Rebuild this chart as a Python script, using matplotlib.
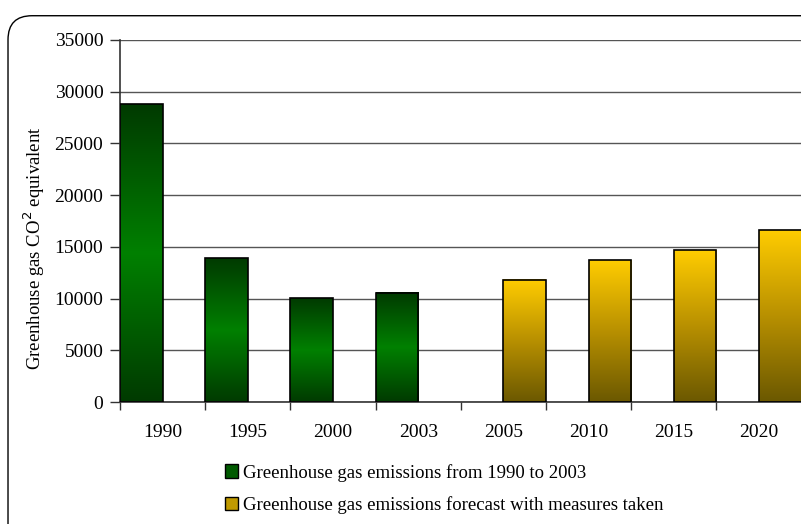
import numpy as np
import matplotlib
matplotlib.use("Agg")
import matplotlib.pyplot as plt
from matplotlib.colors import LinearSegmentedColormap
from matplotlib.patches import FancyBboxPatch, Patch

plt.rcParams['font.family'] = ['Liberation Serif', 'DejaVu Serif']

years = ['1990', '1995', '2000', '2003', '2005', '2010', '2015', '2020']
measured = [28800, 13900, 10050, 10550, 0, 0, 0, 0]
forecast = [0, 0, 0, 0, 11800, 13700, 14650, 16600]
labels = ['Greenhouse gas emissions from 1990 to 2003',
          'Greenhouse gas emissions forecast with measures taken']

green_cmap = LinearSegmentedColormap.from_list('g', ['#003a00', '#008000', '#003a00'])
gold_cmap = LinearSegmentedColormap.from_list('y', ['#6b5800', '#b89000', '#ffcc00'])

fig = plt.figure(figsize=(8.01, 5.24), dpi=100)
ax = fig.add_axes([0.1498, 0.2328, 0.851, 0.6909])

# rounded outer frame, cut off at right and bottom like the original
frame = FancyBboxPatch((0.010, -0.05), 1.1, 1.02, boxstyle='round,pad=0,rounding_size=0.03',
                       transform=fig.transFigure, facecolor='none', edgecolor='black',
                       linewidth=1.0, mutation_aspect=801 / 524)
fig.patches.append(frame)

idx = np.arange(len(years))
w = 0.5
b1 = ax.bar(idx - w / 2, measured, width=w, facecolor='none', edgecolor='black', linewidth=1.2, zorder=3)
b2 = ax.bar(idx + w / 2, forecast, width=w, facecolor='none', edgecolor='black', linewidth=1.2, zorder=3)

grad = np.linspace(0, 1, 256).reshape(-1, 1)
for bars, cmap in ((b1, green_cmap), (b2, gold_cmap)):
    for p in bars:
        h = p.get_height()
        if h <= 0:
            p.set_visible(False)
            continue
        x0 = p.get_x()
        ax.imshow(grad, cmap=cmap, origin='lower', aspect='auto', zorder=2,
                  extent=(x0, x0 + p.get_width(), 0, h), interpolation='bilinear')

ax.set_xlim(-0.5, len(years) - 0.5)
ax.set_ylim(0, 35000)
ax.set_yticks(np.arange(0, 35001, 5000))
ax.yaxis.grid(True, color='#555555', linewidth=1.0)
ax.set_axisbelow(True)

ax.set_xticks(idx - 0.5)
ax.set_xticklabels([])
ax.set_xticks(idx, minor=True)
ax.set_xticklabels(years, minor=True, fontsize=14)
ax.tick_params(axis='x', which='major', length=6, width=1, color='#333333')
ax.tick_params(axis='x', which='minor', length=0, pad=16)
ax.tick_params(axis='y', length=7, width=1, color='#333333', labelsize=14, pad=5)

for s in ('top', 'right'):
    ax.spines[s].set_visible(False)
for s in ('left', 'bottom'):
    ax.spines[s].set_color('#333333')
    ax.spines[s].set_linewidth(1.2)

ax.set_ylabel('Greenhouse gas CO$^2$ equivalent', fontsize=13.5)
ax.yaxis.set_label_coords(-0.107, 0.425)

handles = [Patch(facecolor='#005a00', edgecolor='black'),
           Patch(facecolor='#c09a00', edgecolor='black')]
fig.legend(handles, labels, loc='upper left', bbox_to_anchor=(0.281, 0.115),
           frameon=False, fontsize=13.5, handlelength=0.7, handleheight=0.7,
           handletextpad=0.25, labelspacing=0.76, borderaxespad=0, borderpad=0)

fig.savefig('out.png', dpi=100)
